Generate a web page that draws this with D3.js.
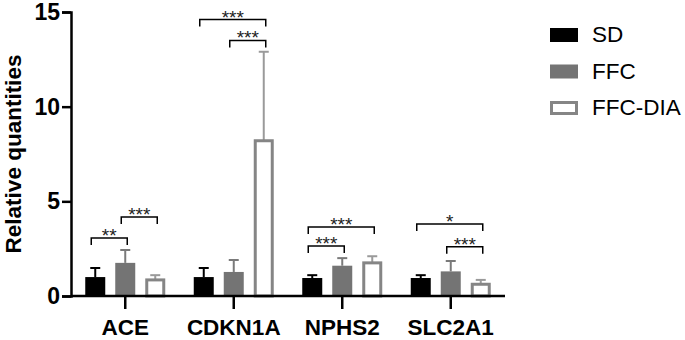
<html>
<head>
    <title>Relative quantities</title>
    <script src="https://d3js.org/d3.v7.min.js"></script>
    <style>
        body { margin: 0; background: #fff; }
        text { font-family: "Liberation Sans", Arial, sans-serif; }
        .tick text { font-weight: bold; fill: #000; }
    </style>
</head>
<body>
<div id="chart"></div>

<script type="text/javascript">

    // genes along the x axis and the three groups
    var genes = ['ACE', 'CDKN1A', 'NPHS2', 'SLC2A1'];
    var groups = ['SD', 'FFC', 'FFC-DIA'];

    // mean values (one entry per gene)
    var sdMean     = [1.0, 1.0, 0.95, 0.95];
    var ffcMean    = [1.75, 1.27, 1.6, 1.3];
    var diaMean    = [0.85, 8.2, 1.75, 0.62];
    // top of the error bar (mean + error)
    var sdTop      = [1.48, 1.48, 1.1, 1.1];
    var ffcTop     = [2.43, 1.9, 2.0, 1.85];
    var diaTop     = [1.1, 12.9, 2.1, 0.85];

    var yTicks = [0, 5, 10, 15];

    // significance brackets: gene, from group, to group, level (y units), label
    var sigGene  = ['ACE', 'ACE', 'CDKN1A', 'CDKN1A', 'NPHS2', 'NPHS2', 'SLC2A1', 'SLC2A1'];
    var sigFrom  = ['SD', 'FFC', 'SD', 'FFC', 'SD', 'SD', 'SD', 'FFC'];
    var sigTo    = ['FFC', 'FFC-DIA', 'FFC-DIA', 'FFC-DIA', 'FFC-DIA', 'FFC', 'FFC-DIA', 'FFC-DIA'];
    var sigLevel = [3.06, 4.17, 14.6, 13.5, 3.65, 2.64, 3.8, 2.6];
    var sigText  = ['**', '***', '***', '***', '***', '***', '*', '***'];

    var means = [sdMean, ffcMean, diaMean];
    var tops = [sdTop, ffcTop, diaTop];

    var data = [];
    genes.forEach(function(g, i) {
        groups.forEach(function(s, j) {
            data.push({gene: g, group: s, mean: means[j][i], top: tops[j][i]});
        });
    });

    var width = 685, height = 340;
    var margin = {top: 12, left: 71, right: 180, bottom: 44};

    var svg = d3.select('#chart').append('svg')
        .attr('width', width)
        .attr('height', height);

    var x = d3.scaleBand().domain(genes).range([margin.left, 505]);
    var xs = d3.scaleBand().domain(groups).range([-45, 45])
        .paddingInner(1/3).paddingOuter(1/6);
    var y = d3.scaleLinear().domain([0, 15]).range([296, margin.top]);

    var fillCol = {'SD': '#000', 'FFC': '#747474', 'FFC-DIA': '#fff'};
    var strokeCol = {'SD': '#000', 'FFC': '#747474', 'FFC-DIA': '#858585'};
    var errCol = {'SD': '#000', 'FFC': '#7a7a7a', 'FFC-DIA': '#9a9a9a'};

    function bx(d) { return x(d.gene) + x.bandwidth() / 2 + xs(d.group); }
    function cx(g, s) { return x(g) + x.bandwidth() / 2 + xs(s) + xs.bandwidth() / 2; }

    // error bars (upper only)
    var err = svg.append('g').selectAll('g')
        .data(data).enter().append('g')
        .attr('stroke', function(d) { return errCol[d.group]; })
        .attr('stroke-width', 2);
    err.append('line')
        .attr('x1', function(d) { return cx(d.gene, d.group); })
        .attr('x2', function(d) { return cx(d.gene, d.group); })
        .attr('y1', function(d) { return y(d.mean); })
        .attr('y2', function(d) { return y(d.top); });
    err.append('line')
        .attr('x1', function(d) { return cx(d.gene, d.group) - 5; })
        .attr('x2', function(d) { return cx(d.gene, d.group) + 5; })
        .attr('y1', function(d) { return y(d.top); })
        .attr('y2', function(d) { return y(d.top); });

    // bars
    svg.append('g').selectAll('rect')
        .data(data).enter().append('rect')
        .attr('x', function(d) { return d.group === 'FFC-DIA' ? bx(d) + 1.5 : bx(d); })
        .attr('width', function(d) { return d.group === 'FFC-DIA' ? xs.bandwidth() - 3 : xs.bandwidth(); })
        .attr('y', function(d) { return y(d.mean); })
        .attr('height', function(d) { return y(0) - y(d.mean); })
        .attr('fill', function(d) { return fillCol[d.group]; })
        .attr('stroke', function(d) { return d.group === 'FFC-DIA' ? strokeCol[d.group] : 'none'; })
        .attr('stroke-width', 3);

    // axes
    var yAxis = svg.append('g')
        .attr('transform', 'translate(' + margin.left + ',0)')
        .call(d3.axisLeft(y).tickValues(yTicks).tickSize(9).tickPadding(2));
    yAxis.selectAll('line, path').attr('stroke', '#000').attr('stroke-width', 2.5);
    yAxis.selectAll('.tick text').style('font-size', '23px');

    var xAxis = svg.append('g')
        .attr('transform', 'translate(0,' + y(0) + ')')
        .call(d3.axisBottom(x).tickSize(13).tickPadding(10).tickSizeOuter(0));
    xAxis.selectAll('line, path').attr('stroke', '#000').attr('stroke-width', 2.5);
    xAxis.select('.domain').attr('d', 'M' + margin.left + ',0H505');
    xAxis.selectAll('.tick text').attr('dy', '0.71em').style('font-size', '22.5px');

    svg.append('text')
        .attr('transform', 'translate(21,154) rotate(-90)')
        .attr('text-anchor', 'middle')
        .style('font-size', '22.5px')
        .style('font-weight', 'bold')
        .text('Relative quantities');

    // significance brackets
    var sig = svg.append('g').selectAll('g')
        .data(sigGene.map(function(g, i) {
            return {gene: g, from: sigFrom[i], to: sigTo[i], level: sigLevel[i], label: sigText[i]};
        }))
        .enter().append('g');
    sig.append('path')
        .attr('fill', 'none')
        .attr('stroke', '#000')
        .attr('stroke-width', 1.5)
        .attr('d', function(d) {
            var x1 = cx(d.gene, d.from) - 4, x2 = cx(d.gene, d.to) + 2, yy = y(d.level);
            return 'M' + x1 + ',' + (yy + 7) + 'V' + yy + 'H' + x2 + 'V' + (yy + 7);
        });
    sig.append('text')
        .attr('x', function(d) { return (cx(d.gene, d.from) + cx(d.gene, d.to)) / 2 - 1; })
        .attr('y', function(d) { return y(d.level) + 4; })
        .attr('text-anchor', 'middle')
        .style('font-size', '19px')
        .style('fill', '#222')
        .text(function(d) { return d.label; });

    // legend
    var legend = svg.append('g').selectAll('g')
        .data(groups).enter().append('g')
        .attr('transform', function(d, i) { return 'translate(550,' + (28 + i * 36.5) + ')'; });
    legend.append('rect')
        .attr('x', function(d) { return d === 'FFC-DIA' ? 1.5 : 0; })
        .attr('y', function(d) { return d === 'FFC-DIA' ? 1.5 : 0; })
        .attr('width', function(d) { return d === 'FFC-DIA' ? 25 : 28; })
        .attr('height', function(d) { return d === 'FFC-DIA' ? 11 : 14; })
        .attr('fill', function(d) { return fillCol[d]; })
        .attr('stroke', function(d) { return d === 'FFC-DIA' ? strokeCol[d] : 'none'; })
        .attr('stroke-width', 3);
    legend.append('text')
        .attr('x', 42)
        .attr('y', 14)
        .style('font-size', '22.5px')
        .text(function(d) { return d; });

</script>
</body>
</html>
